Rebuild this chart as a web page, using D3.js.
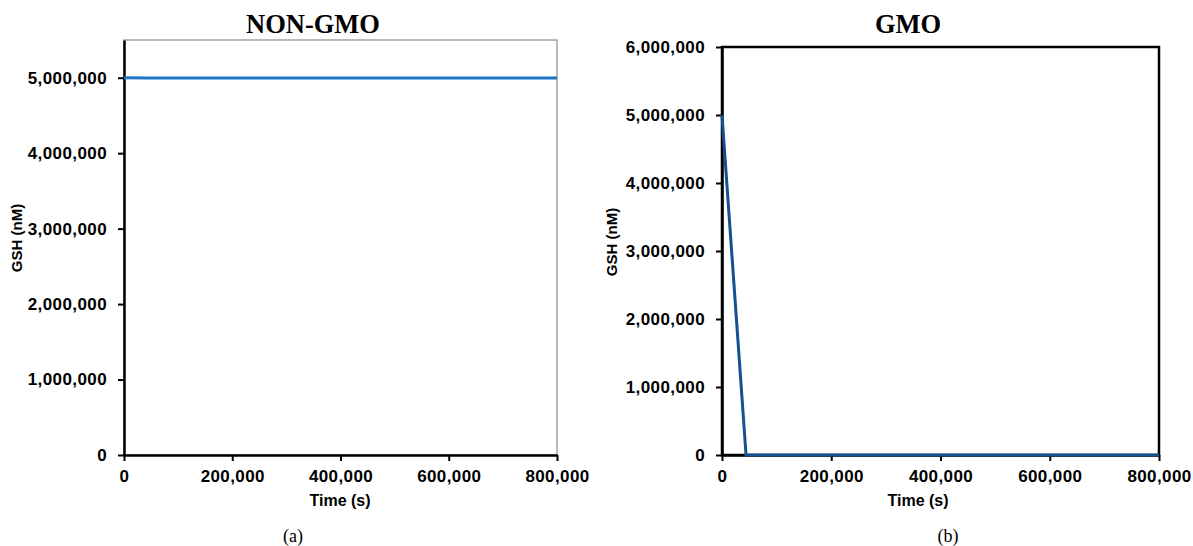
<!DOCTYPE html>
<html>
<head>
<meta charset="utf-8">
<script src="https://cdn.jsdelivr.net/npm/d3@7"></script>
<style>
  body { margin: 0; background: #fff; }
  svg { display: block; }
  .tick text { font-family: "Liberation Sans", Arial, sans-serif; font-weight: bold; font-size: 17px; letter-spacing: 0.4px; fill: #000; }
</style>
</head>
<body>
<svg id="chart"></svg>
<script>
// data
const nonGmoTime = [0, 40000, 800000];
const nonGmoGSH = [5000000, 4995000, 4995000];
const gmoTime = [0, 44000, 800000];
const gmoGSH = [5000000, 0, 0];
const xTicks = [0, 200000, 400000, 600000, 800000];
const yTicksA = [0, 1000000, 2000000, 3000000, 4000000, 5000000];
const yTicksB = [0, 1000000, 2000000, 3000000, 4000000, 5000000, 6000000];

let width = 1193,
  height = 546;

let svg = d3.select("#chart").attr("width", width).attr("height", height);

const fmt = d3.format(",");

function drawPanel(opts) {
  let g = svg.append("g");
  let x = d3.scaleLinear().domain([0, 800000]).range([opts.x0, opts.x1]);
  let y = d3.scaleLinear().domain([0, opts.ymax]).range([opts.y0, opts.y1]);

  // plot area border
  g.append("rect")
    .attr("x", opts.x0)
    .attr("y", opts.y1)
    .attr("width", opts.x1 - opts.x0)
    .attr("height", opts.y0 - opts.y1)
    .attr("fill", "none")
    .attr("stroke", opts.border)
    .attr("stroke-width", opts.borderW);

  let xAxis = g
    .append("g")
    .attr("transform", `translate(0,${opts.y0})`)
    .call(d3.axisBottom(x).tickValues(xTicks).tickFormat(fmt).tickSizeInner(6).tickSizeOuter(0).tickPadding(9));
  let yAxis = g
    .append("g")
    .attr("transform", `translate(${opts.x0},0)`)
    .call(d3.axisLeft(y).tickValues(opts.yTicks).tickFormat(fmt).tickSizeInner(6).tickSizeOuter(0).tickPadding(11));
  [xAxis, yAxis].forEach((a) => {
    a.select(".domain").attr("stroke", "#000").attr("stroke-width", 2.5);
    a.selectAll(".tick line").attr("stroke", "#000").attr("stroke-width", 2);
  });

  let line = d3
    .line()
    .x((d) => x(d[0]))
    .y((d) => y(d[1]));
  g.append("path")
    .datum(opts.time.map((t, i) => [t, opts.values[i]]))
    .attr("d", line)
    .attr("fill", "none")
    .attr("stroke", opts.color)
    .attr("stroke-width", 3);

  // titles
  g.append("text")
    .attr("x", opts.titleX)
    .attr("y", 33)
    .attr("text-anchor", "middle")
    .style("font-family", "'Liberation Serif', 'Times New Roman', serif")
    .style("font-weight", "bold")
    .style("font-size", "26.5px")
    .text(opts.title);
  g.append("text")
    .attr("x", opts.xTitleX)
    .attr("y", 506)
    .attr("text-anchor", "middle")
    .style("font-family", "'Liberation Sans', Arial, sans-serif")
    .style("font-weight", "bold")
    .style("font-size", "16px")
    .text("Time (s)");
  g.append("text")
    .attr("transform", `translate(${opts.yTitleX},${opts.yTitleY}) rotate(-90)`)
    .attr("text-anchor", "middle")
    .style("font-family", "'Liberation Sans', Arial, sans-serif")
    .style("font-weight", "bold")
    .style("font-size", "15px")
    .text("GSH (nM)");
  g.append("text")
    .attr("x", opts.capX)
    .attr("y", 542)
    .attr("text-anchor", "middle")
    .style("font-family", "'Liberation Serif', 'Times New Roman', serif")
    .style("font-size", "18px")
    .text(opts.caption);
}

drawPanel({
  x0: 124, x1: 557, y0: 455, y1: 40, ymax: 5500000,
  yTicks: yTicksA, time: nonGmoTime, values: nonGmoGSH,
  color: "#1a75c4", border: "#8c8c8c", borderW: 1.2,
  title: "NON-GMO", titleX: 313, xTitleX: 340, yTitleX: 22, yTitleY: 238,
  caption: "(a)", capX: 293,
});

drawPanel({
  x0: 722, x1: 1159, y0: 455, y1: 47, ymax: 6000000,
  yTicks: yTicksB, time: gmoTime, values: gmoGSH,
  color: "#15508f", border: "#000", borderW: 2.5,
  title: "GMO", titleX: 908, xTitleX: 918, yTitleX: 617, yTitleY: 242,
  caption: "(b)", capX: 948,
});
</script>
</body>
</html>
